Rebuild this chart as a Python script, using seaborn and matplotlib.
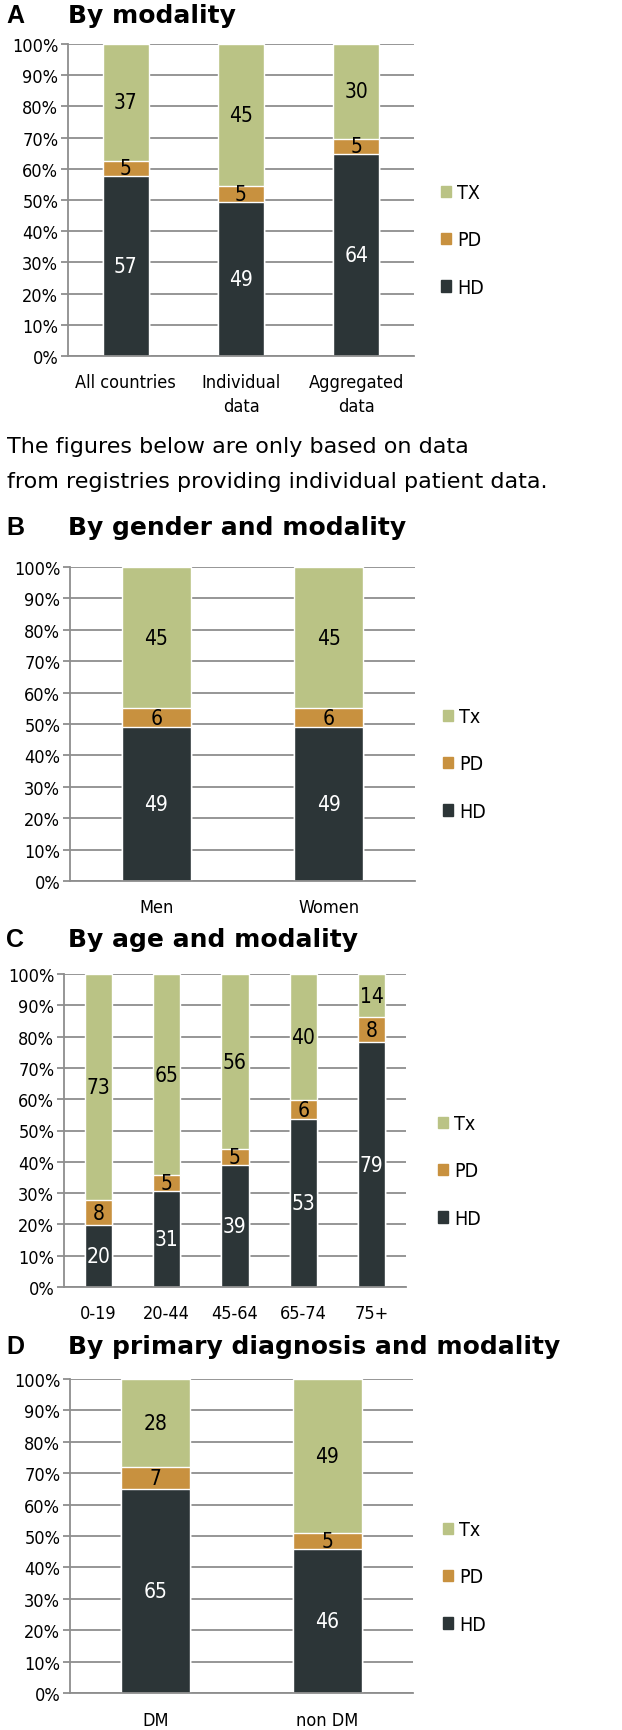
import numpy as np
import pandas as pd
import seaborn as sns
import matplotlib.pyplot as plt
from matplotlib.patches import Patch

# 数据：每个面板的类别与 HD / PD / Tx 百分比
modality_cats = ['All countries', 'Individual\ndata', 'Aggregated\ndata']
modality_hd = [57, 49, 64]
modality_pd = [5, 5, 5]
modality_tx = [37, 45, 30]

gender_cats = ['Men', 'Women']
gender_hd = [49, 49]
gender_pd = [6, 6]
gender_tx = [45, 45]

age_cats = ['0-19', '20-44', '45-64', '65-74', '75+']
age_hd = [20, 31, 39, 53, 79]
age_pd = [8, 5, 5, 6, 8]
age_tx = [73, 65, 56, 40, 14]

diag_cats = ['DM', 'non DM']
diag_hd = [65, 46]
diag_pd = [7, 5]
diag_tx = [28, 49]

note_lines = ['The figures below are only based on data',
              'from registries providing individual patient data.']

c_tx = '#bac385'
c_pd = '#c8913f'
c_hd = '#2c3537'
c_grid = '#8e8e8e'

sns.set_style('white')
plt.rcParams['font.family'] = ['DejaVu Sans']
plt.rcParams['text.color'] = 'black'
plt.rcParams['xtick.color'] = 'black'
plt.rcParams['ytick.color'] = 'black'

W, H = 622, 1731
fig = plt.figure(figsize=(W / 100, H / 100), dpi=100)

narrow = dict(fontstretch='condensed')


def px_axes(left, top, right, bottom):
    return fig.add_axes([left / W, 1 - bottom / H, (right - left) / W, (bottom - top) / H])


def panel(letter, title, title_y, box, cats, hd, pd_, tx, tx_name, leg_x, leg_y, label_pad):
    ax = px_axes(*box)
    hd = np.array(hd, float)
    pd_ = np.array(pd_, float)
    tx = np.array(tx, float)
    tot = hd + pd_ + tx
    # 归一化到 100%
    hd_n = hd / tot * 100
    pd_n = pd_ / tot * 100
    tx_n = tx / tot * 100
    df = pd.DataFrame({'cat': cats, 'hd': hd_n, 'hdpd': hd_n + pd_n, 'all': hd_n + pd_n + tx_n})
    # 堆叠：先画总高度，再依次覆盖
    sns.barplot(data=df, x='cat', y='all', color=c_tx, width=0.4, saturation=1, errorbar=None, ax=ax)
    sns.barplot(data=df, x='cat', y='hdpd', color=c_pd, width=0.4, saturation=1, errorbar=None, ax=ax)
    sns.barplot(data=df, x='cat', y='hd', color=c_hd, width=0.4, saturation=1, errorbar=None, ax=ax)

    for i in range(len(cats)):
        ax.text(i, hd_n[i] / 2, f'{int(hd[i])}', ha='center', va='center', color='white',
                fontsize=15, **narrow)
        ax.text(i, hd_n[i] + pd_n[i] / 2, f'{int(pd_[i])}', ha='center', va='center', color='black',
                fontsize=15, **narrow)
        ax.text(i, hd_n[i] + pd_n[i] + tx_n[i] / 2, f'{int(tx[i])}', ha='center', va='center',
                color='black', fontsize=15, **narrow)

    n = len(cats)
    ax.set_xlim(-0.5, n - 0.5)
    ax.set_ylim(0, 100)
    ax.set_yticks(np.arange(0, 101, 10))
    ax.set_yticklabels([f'{v}%' for v in range(0, 101, 10)], fontsize=13, **narrow)
    ax.set_xticks(range(n))
    ax.set_xticklabels(cats, fontsize=13, linespacing=1.45, **narrow)
    ax.yaxis.grid(True, color=c_grid, lw=1.3)
    ax.set_axisbelow(True)
    for s in ['top', 'right']:
        ax.spines[s].set_visible(False)
    for s in ['left', 'bottom']:
        ax.spines[s].set_color(c_grid)
        ax.spines[s].set_linewidth(1.3)
    ax.set_xlabel('')
    ax.set_ylabel('')
    ax.set_xticks(np.arange(-0.5, n, 1.0), minor=True)
    ax.tick_params(axis='x', which='major', length=0, pad=label_pad)
    ax.tick_params(axis='x', which='minor', length=6, color=c_grid, width=1.3, direction='out')
    ax.tick_params(axis='y', length=5, color=c_grid, width=1.3, pad=2, left=True)

    fig.text(6 / W, 1 - title_y / H, letter, fontsize=18, fontweight='bold',
             family=['Liberation Sans'], va='center', ha='left')
    fig.text(68 / W, 1 - title_y / H, title, fontsize=18, fontweight='bold', va='center', ha='left')

    handles = [Patch(color=c_tx, label=tx_name), Patch(color=c_pd, label='PD'), Patch(color=c_hd, label='HD')]
    fig.legend(handles=handles, loc='center left', bbox_to_anchor=(leg_x / W, 1 - leg_y / H),
               frameon=False, prop=dict(size=14, stretch='condensed'), handlelength=0.55,
               handleheight=0.55, handletextpad=0.3, labelspacing=1.45, borderpad=0)
    return ax


panel('A', 'By modality', 16, (68, 45, 414, 357),
      modality_cats, modality_hd, modality_pd, modality_tx, 'TX', 431, 241, 12)

fig.text(7 / W, 1 - 447 / H, note_lines[0], fontsize=16, va='center', ha='left')
fig.text(7 / W, 1 - 482 / H, note_lines[1], fontsize=16, va='center', ha='left')

panel('B', 'By gender and modality', 528, (70, 568, 415, 882),
      gender_cats, gender_hd, gender_pd, gender_tx, 'Tx', 433, 765, 12)

panel('C', 'By age and modality', 940, (64, 975, 406, 1288),
      age_cats, age_hd, age_pd, age_tx, 'Tx', 428, 1172, 12)

panel('D', 'By primary diagnosis and modality', 1347, (70, 1380, 413, 1694),
      diag_cats, diag_hd, diag_pd, diag_tx, 'Tx', 433, 1578, 13)

plt.savefig('out.png', dpi=100)
